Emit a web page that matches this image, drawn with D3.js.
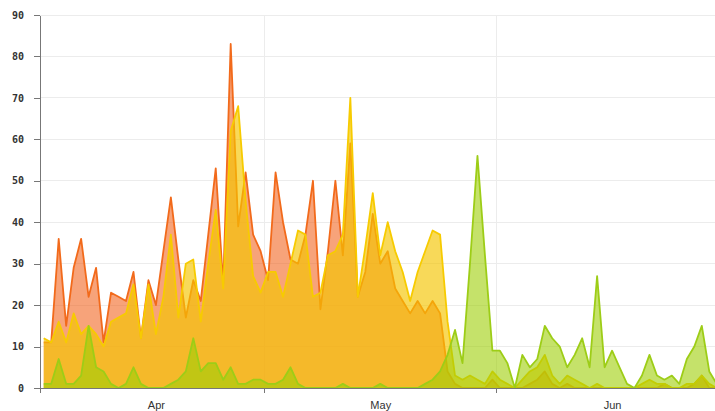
<!DOCTYPE html>
<html>
<head>
<meta charset="utf-8">
<script src="https://cdn.jsdelivr.net/npm/d3@7"></script>
<style>
  body { margin: 0; background: #fff; }
  .axis path, .axis line { stroke: #777; shape-rendering: crispEdges; }
  .y.axis text { font-family: "DejaVu Sans Mono", monospace; font-size: 10px; font-weight: bold; fill: #333; }
  .x.axis text { font-family: "Liberation Sans", Arial, sans-serif; font-size: 11px; fill: #333; }
  .grid line { stroke: #ececec; shape-rendering: crispEdges; }
</style>
</head>
<body>
<svg id="chart" width="715" height="411"></svg>
<script>
//
// Data: one value per day, Apr 1 .. Jun 30
//
const startDay = new Date(2016, 3, 1);
const endDay = new Date(2016, 6, 1);
const days = d3.timeDay.range(startDay, endDay);

const orange = [
  11, 11, 36, 15, 29, 36, 22, 29, 11, 23, 22, 21, 28, 12, 26, 20, 33, 46, 31, 17,
  26, 21, 37, 53, 25, 83, 39, 52, 37, 33, 26, 52, 40, 31, 30, 37, 50, 19, 33, 50,
  32, 59, 22, 28, 42, 30, 33, 24, 21, 18, 21, 18, 21, 18, 4, 1, 0, 0, 0, 0,
  2, 0, 0, 0, 0, 1, 2, 4, 1, 0, 1, 0, 0, 0, 0, 0, 0, 0, 0, 0,
  0, 0, 0, 1, 0, 0, 0, 1, 3, 0, 0,
];

const yellow = [
  12, 11, 16, 11, 18, 13, 15, 13, 10, 16, 17, 18, 25, 12, 25, 13, 22, 37, 17, 30,
  31, 16, 30, 43, 24, 62, 68, 45, 27, 23, 28, 28, 22, 30, 38, 37, 22, 23, 32, 33,
  37, 70, 22, 34, 47, 32, 40, 33, 28, 21, 28, 33, 38, 37, 16, 3, 2, 3, 2, 1,
  4, 2, 1, 0, 2, 4, 5, 8, 3, 1, 3, 2, 1, 0, 1, 0, 0, 0, 0, 0,
  1, 2, 1, 1, 0, 0, 1, 1, 3, 1, 0,
];

const green = [
  1, 1, 7, 1, 1, 3, 15, 5, 4, 1, 0, 1, 5, 1, 0, 0, 0, 1, 2, 4,
  12, 4, 6, 6, 2, 5, 1, 1, 2, 2, 1, 1, 2, 5, 1, 0, 0, 0, 0, 0,
  1, 0, 0, 0, 0, 1, 0, 0, 0, 0, 0, 1, 2, 4, 8, 14, 6, 30, 56, 32,
  9, 9, 6, 0, 8, 5, 7, 15, 12, 10, 5, 8, 12, 5, 27, 5, 9, 5, 1, 0,
  3, 8, 3, 2, 3, 1, 7, 10, 15, 4, 1,
];

const yTicks = [0, 10, 20, 30, 40, 50, 60, 70, 80, 90];
const monthStarts = [new Date(2016, 3, 1), new Date(2016, 4, 1), new Date(2016, 5, 1)];
const monthLabels = ["Apr", "May", "Jun"];

const series = [
  { name: "orange", values: orange, stroke: "#f26a1b", fill: "#f26522", opacity: 0.6 },
  { name: "yellow", values: yellow, stroke: "#f7cb00", fill: "#f5c400", opacity: 0.65 },
  { name: "green", values: green, stroke: "#9dcd17", fill: "#9ecf07", opacity: 0.6 },
];

//
// Chart
//
const plotLeft = 40, plotRight = 715, plotTop = 15, plotBottom = 388;

const svg = d3.select("#chart");

const x = d3.scaleTime().domain([startDay, endDay]).range([plotLeft, 720.5]);
const y = d3.scaleLinear().domain([0, 90]).range([plotBottom, plotTop]);

// points sit in the middle of each day
const mid = (d) => d3.timeHour.offset(d, 12);

svg.append("clipPath").attr("id", "plot")
  .append("rect").attr("x", plotLeft).attr("y", 0)
  .attr("width", plotRight - plotLeft).attr("height", plotBottom);

// grid
const grid = svg.append("g").attr("class", "grid");
grid.selectAll("line.h")
  .data(yTicks.slice(1))
  .enter().append("line")
  .attr("class", "h")
  .attr("x1", plotLeft).attr("x2", plotRight)
  .attr("y1", (d) => y(d)).attr("y2", (d) => y(d));
grid.selectAll("line.v")
  .data(monthStarts.slice(1))
  .enter().append("line")
  .attr("class", "v")
  .attr("x1", (d) => x(d)).attr("x2", (d) => x(d))
  .attr("y1", plotTop).attr("y2", plotBottom);

// areas
const plot = svg.append("g").attr("clip-path", "url(#plot)");

series.forEach((s) => {
  const pts = days.map((d, i) => ({ date: mid(d), value: s.values[i] }));
  plot.append("path")
    .datum(pts)
    .attr("fill", s.fill)
    .attr("fill-opacity", s.opacity)
    .attr("d", d3.area().x((d) => x(d.date)).y0(y(0)).y1((d) => y(d.value)));
  plot.append("path")
    .datum(pts)
    .attr("fill", "none")
    .attr("stroke", s.stroke)
    .attr("stroke-width", 1.8)
    .attr("stroke-linejoin", "round")
    .attr("d", d3.line().x((d) => x(d.date)).y((d) => y(d.value)));
});

// axes
svg.append("g")
  .attr("class", "y axis")
  .attr("transform", `translate(${plotLeft},0)`)
  .call(d3.axisLeft(y).tickValues(yTicks).tickSize(6).tickSizeOuter(0).tickPadding(10));

svg.append("g")
  .attr("class", "x axis")
  .attr("transform", `translate(0,${plotBottom})`)
  .call(d3.axisBottom(x).tickValues(monthStarts).tickFormat("").tickSize(5).tickSizeOuter(0))
  .select(".domain").attr("d", `M${plotLeft},0.5H${plotRight}`);

// month names sit in the middle of each month
const labelDates = monthStarts.map((d) => d3.timeHour.offset(d, 15 * 24 + 12));
svg.append("g")
  .attr("class", "x axis")
  .attr("transform", `translate(0,${plotBottom})`)
  .call(d3.axisBottom(x).tickValues(labelDates).tickFormat((d, i) => monthLabels[i]).tickSize(0).tickPadding(13))
  .call((g) => g.select(".domain").remove());
</script>
</body>
</html>
